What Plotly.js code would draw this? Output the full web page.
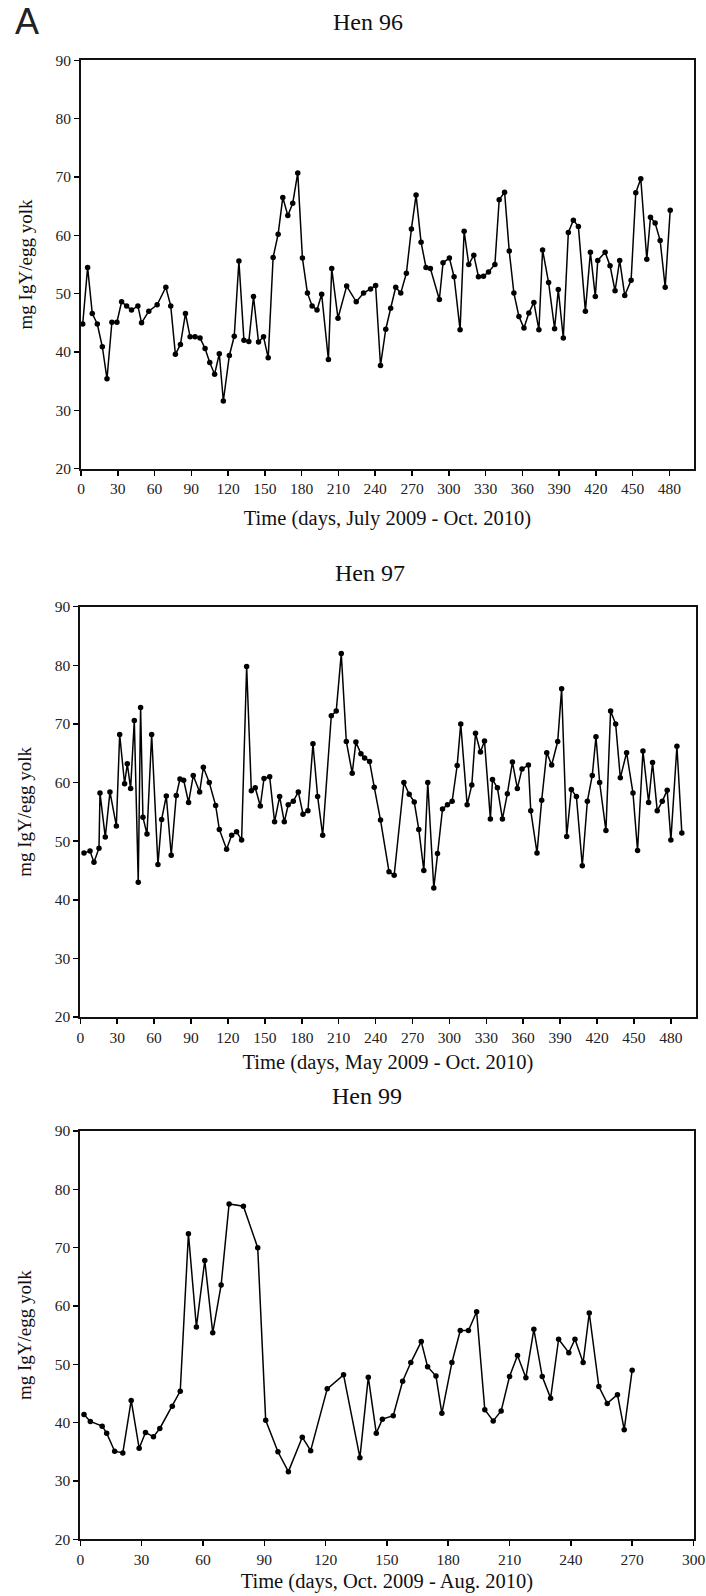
<!DOCTYPE html>
<html>
<head>
<meta charset="utf-8">
<script src="https://cdn.plot.ly/plotly-3.0.1.min.js"></script>
<style>
html,body{margin:0;padding:0;background:#fff;}
#chart{width:706px;height:1596px;}
</style>
</head>
<body>
<div id="chart"></div>
<script>
// Hen 96 (days, July 2009 - Oct. 2010)
const days96 = [1.4,5.4,9.2,13.3,17.4,21.2,25.2,29.3,33.1,37.2,41.2,46.4,49.4,55.3,62.1,69.2,73.2,77.0,81.1,85.2,89.0,93.0,97.1,101.2,105.0,109.0,112.8,116.1,121.0,125.0,128.8,132.9,136.9,140.7,144.8,148.9,152.7,156.7,160.8,164.6,168.7,172.7,176.8,180.6,184.7,188.5,192.5,196.3,201.8,204.5,209.6,216.7,224.5,230.5,236.2,240.3,244.3,248.6,252.6,256.7,260.8,265.4,269.5,273.3,277.4,281.4,285.0,292.3,295.3,300.5,304.3,309.2,312.5,316.3,320.4,324.2,328.3,332.4,337.6,341.1,345.5,349.3,353.1,357.2,361.3,365.3,369.4,373.5,376.5,381.4,386.3,389.3,393.4,397.5,401.6,405.7,411.4,415.5,419.5,421.5,427.5,431.5,435.6,439.4,443.5,448.7,452.5,456.6,461.5,464.5,468.3,472.4,476.5,480.6];
const igy96 = [44.8,54.5,46.6,44.8,40.9,35.4,45.1,45.1,48.6,47.9,47.2,47.9,45.0,47.0,48.1,51.1,47.9,39.6,41.3,46.6,42.6,42.6,42.4,40.6,38.2,36.2,39.7,31.6,39.4,42.7,55.6,42.0,41.8,49.5,41.7,42.6,39.0,56.2,60.2,66.5,63.4,65.5,70.7,56.1,50.1,47.9,47.2,49.9,38.7,54.3,45.8,51.3,48.6,50.1,50.8,51.4,37.7,43.9,47.5,51.1,50.1,53.5,61.1,66.9,58.8,54.5,54.3,49.0,55.3,56.1,52.9,43.8,60.7,55.0,56.6,52.9,53.0,53.7,55.0,66.1,67.4,57.3,50.1,46.1,44.1,46.7,48.5,43.8,57.5,51.9,44.0,50.7,42.4,60.5,62.6,61.5,47.0,57.1,49.5,55.7,57.1,54.8,50.5,55.7,49.7,52.3,67.3,69.7,55.9,63.1,62.1,59.1,51.1,64.3];

// Hen 97 (days, May 2009 - Oct. 2010)
const days97 = [3.0,7.9,11.1,15.2,16.0,20.3,24.1,29.3,32.0,36.0,38.2,40.9,43.9,47.1,49.0,50.9,54.2,58.0,63.1,66.1,69.9,73.9,78.0,81.0,84.0,88.0,91.8,97.0,100.0,104.8,110.0,113.0,118.9,123.0,127.0,131.1,135.2,139.0,142.2,146.3,149.3,153.9,157.9,162.0,165.8,169.0,173.1,177.2,181.0,185.0,189.1,192.9,197.0,204.0,208.0,212.1,216.2,221.0,224.0,228.1,231.1,235.1,238.9,244.0,250.9,255.1,263.0,267.3,271.4,275.1,279.2,282.4,287.3,290.3,294.4,298.4,302.2,306.3,309.2,314.4,318.2,321.2,325.2,328.5,333.3,335.0,339.0,343.1,347.1,351.2,355.2,359.0,364.2,366.1,371.2,375.0,379.1,383.1,388.0,391.2,395.3,399.1,403.2,408.0,412.1,416.1,419.1,422.1,427.2,431.0,435.1,438.9,444.0,449.2,452.9,457.3,461.9,465.1,468.9,473.0,477.0,480.0,484.9,488.9];
const igy97 = [48.0,48.3,46.4,48.8,58.2,50.7,58.4,52.6,68.2,59.8,63.2,59.0,70.6,43.0,72.8,54.1,51.2,68.2,46.0,53.7,57.7,47.6,57.8,60.6,60.4,56.6,61.2,58.4,62.6,60.0,56.1,52.0,48.6,51.0,51.6,50.2,79.8,58.6,59.1,56.0,60.7,61.0,53.3,57.6,53.3,56.2,56.8,58.4,54.6,55.2,66.6,57.6,51.0,71.4,72.2,82.0,67.0,61.6,66.9,64.9,64.2,63.6,59.2,53.6,44.8,44.2,60.0,58.0,56.7,52.0,45.0,60.0,42.0,47.9,55.5,56.2,56.8,62.9,70.0,56.2,59.6,68.4,65.2,67.1,53.8,60.5,59.1,53.8,58.1,63.5,59.0,62.3,63.0,55.2,48.0,57.0,65.1,63.0,67.0,76.0,50.8,58.8,57.6,45.8,56.8,61.2,67.8,60.0,51.8,72.2,70.0,60.8,65.1,58.2,48.4,65.4,56.6,63.4,55.2,56.8,58.7,50.2,66.2,51.4];

// Hen 99 (days, Oct. 2009 - Aug. 2010)
const days99 = [1.8,4.9,10.7,12.9,16.8,20.8,24.9,28.8,31.9,35.8,38.9,45.0,48.9,52.9,56.8,60.9,64.8,68.9,72.8,79.8,86.8,90.7,96.7,101.8,108.6,112.7,120.8,128.8,136.8,140.9,144.8,147.8,153.1,157.7,161.7,166.8,169.9,174.0,176.9,181.8,185.9,189.9,193.9,197.9,202.0,205.9,210.0,213.9,218.0,221.9,226.0,230.1,234.0,239.0,242.0,246.0,249.0,253.7,257.8,262.8,266.1,270.0];
const igy99 = [41.4,40.2,39.4,38.2,35.1,34.8,43.8,35.6,38.3,37.6,39.0,42.8,45.4,72.4,56.4,67.8,55.4,63.6,77.5,77.1,70.0,40.4,35.0,31.6,37.5,35.2,45.8,48.2,34.0,47.8,38.2,40.6,41.2,47.1,50.3,53.9,49.6,48.0,41.6,50.3,55.8,55.8,59.0,42.2,40.3,42.0,47.9,51.5,47.7,56.0,47.9,44.2,54.3,52.0,54.3,50.3,58.8,46.2,43.3,44.8,38.8,49.0];

const panelTitles = ["Hen 96", "Hen 97", "Hen 99"];
const xTitles = ["Time (days, July 2009 - Oct. 2010)", "Time (days, May 2009 - Oct. 2010)", "Time (days, Oct. 2009 - Aug. 2010)"];
const yTitle = "mg IgY/egg yolk";
const ticks480 = [0,30,60,90,120,150,180,210,240,270,300,330,360,390,420,450,480];
const ticks300 = [0,30,60,90,120,150,180,210,240,270,300];
const yTicks = [20,30,40,50,60,70,80,90];

const W = 706, H = 1596;
const serif = "Liberation Serif";
const px = v => v / W;
const py = v => 1 - v / H;

function trace(x, y, xa, ya) {
  return {
    x: x, y: y, xaxis: xa, yaxis: ya, type: "scatter", mode: "lines+markers",
    line: {color: "#000", width: 1.5},
    marker: {color: "#000", size: 5.5},
    showlegend: false, hoverinfo: "x+y"
  };
}

function xaxis(domain, range, ticks, anchor, title, standoff) {
  return {
    domain: domain, range: range, anchor: anchor,
    tickmode: "array", tickvals: ticks, ticktext: ticks.map(String),
    ticks: "outside", ticklen: 5, tickwidth: 1.5, tickcolor: "#000",
    showline: true, linecolor: "#111", linewidth: 2, mirror: true,
    showgrid: false, zeroline: false,
    tickfont: {family: serif, size: 15.5, color: "#222"},
    title: {text: title, font: {family: serif, size: 20.5, color: "#111"}, standoff: standoff},
    automargin: false, fixedrange: true
  };
}
function yaxis(domain, anchor, standoff) {
  return {
    domain: domain, range: [20, 90], anchor: anchor,
    tickmode: "array", tickvals: yTicks, ticktext: yTicks.map(String),
    ticks: "outside", ticklen: 5, tickwidth: 1.5, tickcolor: "#000",
    showline: true, linecolor: "#111", linewidth: 2, mirror: true,
    showgrid: false, zeroline: false,
    tickfont: {family: serif, size: 15.5, color: "#222"},
    title: {text: yTitle, font: {family: serif, size: 19, color: "#111"}, standoff: standoff},
    automargin: false, fixedrange: true
  };
}

const data = [
  trace(days96, igy96, "x", "y"),
  trace(days97, igy97, "x2", "y2"),
  trace(days99, igy99, "x3", "y3")
];

const layout = {
  width: W, height: H,
  margin: {l: 0, r: 0, t: 0, b: 0},
  paper_bgcolor: "#fff", plot_bgcolor: "#fff",
  showlegend: false,
  font: {family: serif},
  xaxis:  xaxis([px(81), px(694)],   [0, 500], ticks480, "y",  xTitles[0], 14),
  yaxis:  yaxis([py(468.7), py(60.3)], "x", 18),
  xaxis2: xaxis([px(80.3), px(695.5)], [0, 500], ticks480, "y2", xTitles[1], 10),
  yaxis2: yaxis([py(1017), py(606.7)], "x2", 18),
  xaxis3: xaxis([px(80.3), px(693.5)], [0, 300], ticks300, "y3", xTitles[2], 7),
  yaxis3: yaxis([py(1539.3), py(1131)], "x3", 18),
  annotations: [
    {text: "A", xref: "paper", yref: "paper", x: px(13), y: py(44), xanchor: "left", yanchor: "bottom",
     showarrow: false, font: {family: "Liberation Sans", size: 36, color: "#222"}},
    {text: panelTitles[0], xref: "paper", yref: "paper", x: px(368), y: py(22), xanchor: "center", yanchor: "middle",
     showarrow: false, font: {family: serif, size: 24, color: "#111"}},
    {text: panelTitles[1], xref: "paper", yref: "paper", x: px(370), y: py(573), xanchor: "center", yanchor: "middle",
     showarrow: false, font: {family: serif, size: 24, color: "#111"}},
    {text: panelTitles[2], xref: "paper", yref: "paper", x: px(367), y: py(1096), xanchor: "center", yanchor: "middle",
     showarrow: false, font: {family: serif, size: 24, color: "#111"}}
  ]
};

Plotly.newPlot("chart", data, layout, {staticPlot: true, displayModeBar: false});
</script>
</body>
</html>
